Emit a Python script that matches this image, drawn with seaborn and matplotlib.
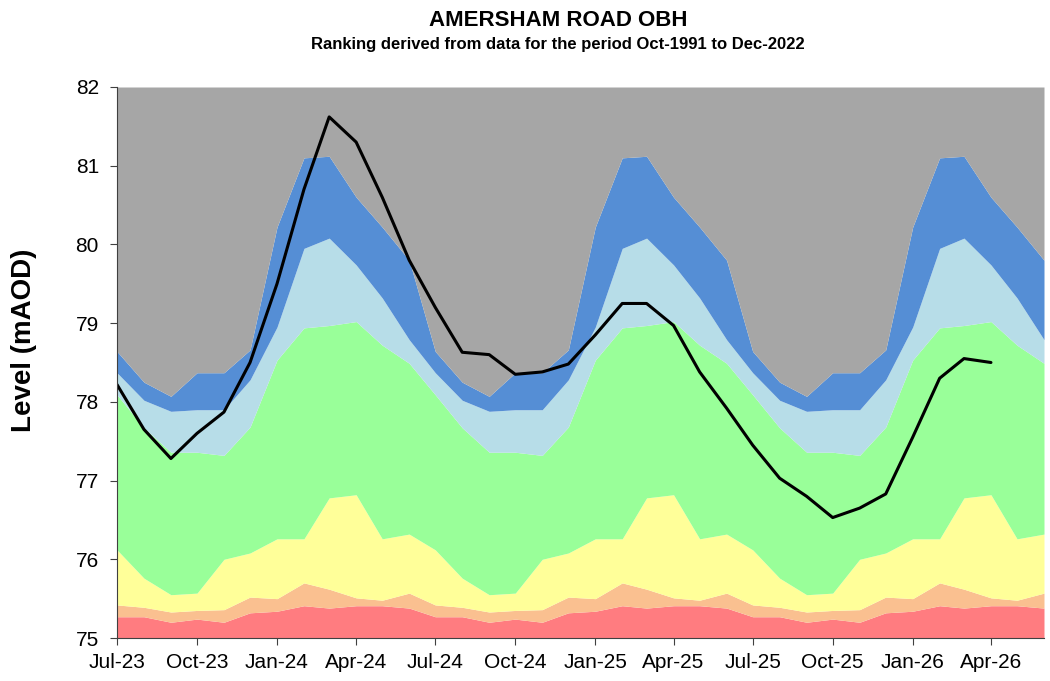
import numpy as np
import pandas as pd
import seaborn as sns
import matplotlib
matplotlib.use("Agg")
import matplotlib.pyplot as plt
import matplotlib.dates as mdates

# monthly ranking band boundaries (Jan..Dec), mAOD
band_red_top = [75.34, 75.41, 75.38, 75.41, 75.41, 75.38, 75.27, 75.27, 75.20, 75.24, 75.20, 75.32]
band_salmon_top = [75.50, 75.70, 75.62, 75.51, 75.48, 75.57, 75.42, 75.39, 75.33, 75.35, 75.36, 75.52]
band_yellow_top = [76.26, 76.26, 76.78, 76.82, 76.26, 76.32, 76.12, 75.76, 75.55, 75.57, 76.00, 76.08]
band_green_top = [78.53, 78.94, 78.97, 79.02, 78.72, 78.49, 78.09, 77.67, 77.36, 77.36, 77.32, 77.68]
band_lblue_top = [78.95, 79.95, 80.08, 79.74, 79.32, 78.79, 78.37, 78.02, 77.88, 77.90, 77.90, 78.28]
band_blue_top = [80.22, 81.10, 81.12, 80.60, 80.22, 79.80, 78.64, 78.25, 78.07, 78.37, 78.37, 78.66]

# observed / forecast level, monthly from Jul-23
level = [78.22, 77.65, 77.28, 77.60, 77.87, 78.50, 79.50, 80.70, 81.62, 81.30,
         80.60, 79.80, 79.20, 78.63, 78.60, 78.35, 78.38, 78.48, 78.85, 79.25,
         79.25, 78.97, 78.38, 77.92, 77.45, 77.03, 76.80, 76.53, 76.65, 76.83,
         77.55, 78.30, 78.55, 78.50]

dates = pd.date_range("2023-07-01", "2026-06-01", freq="MS")
months = dates.month - 1

bands = pd.DataFrame({
    "date": dates,
    "red": np.array(band_red_top)[months],
    "salmon": np.array(band_salmon_top)[months],
    "yellow": np.array(band_yellow_top)[months],
    "green": np.array(band_green_top)[months],
    "lblue": np.array(band_lblue_top)[months],
    "blue": np.array(band_blue_top)[months],
})
df_level = pd.DataFrame({"date": dates[:len(level)], "level": level})

sns.set_style("ticks")
plt.rcParams["font.family"] = ["Liberation Sans", "DejaVu Sans"]
plt.rcParams["text.color"] = "black"
plt.rcParams["axes.labelcolor"] = "black"
plt.rcParams["xtick.color"] = "black"
plt.rcParams["ytick.color"] = "black"

fig = plt.figure(figsize=(10.5, 6.81), dpi=100)
ax = fig.add_axes([117 / 1050, 1 - 638 / 681, (1044 - 117) / 1050, (638 - 87) / 681])

colors = {"red": "#FF7C80", "salmon": "#FAC090", "yellow": "#FFFF99",
          "green": "#99FF99", "lblue": "#B7DDE8", "blue": "#558ED5"}
lower = np.full(len(dates), 75.0)
for name in ["red", "salmon", "yellow", "green", "lblue", "blue"]:
    ax.fill_between(bands["date"], lower, bands[name], color=colors[name], lw=0)
    lower = bands[name].values
ax.fill_between(bands["date"], lower, 82.0, color="#A6A6A6", lw=0)

sns.lineplot(data=df_level, x="date", y="level", color="black", lw=2.2, ax=ax)

ax.set_xlim(dates[0], dates[-1])
ax.set_ylim(75, 82)
ax.set_yticks(range(75, 83))
ax.xaxis.set_major_locator(mdates.MonthLocator(bymonth=[1, 4, 7, 10]))
ax.xaxis.set_major_formatter(mdates.DateFormatter("%b-%y"))
ax.tick_params(axis="both", labelsize=15, length=5, color="#404040")
ax.tick_params(axis="y", pad=8)
ax.tick_params(axis="x", pad=6)
ax.set_xlabel("")
ax.set_ylabel("Level (mAOD)", fontsize=20, fontweight="bold")
ax.yaxis.set_label_coords(-0.086, 0.54)
for s in ["top", "right"]:
    ax.spines[s].set_visible(False)
for s in ["left", "bottom"]:
    ax.spines[s].set_color("#404040")

fig.text(558 / 1050, 1 - 20 / 681, "AMERSHAM ROAD OBH", ha="center", va="center",
         fontsize=16, fontweight="bold")
fig.text(558 / 1050, 1 - 45 / 681, "Ranking derived from data for the period Oct-1991 to Dec-2022",
         ha="center", va="center", fontsize=12, fontweight="bold")

fig.savefig("out.png", dpi=100)
